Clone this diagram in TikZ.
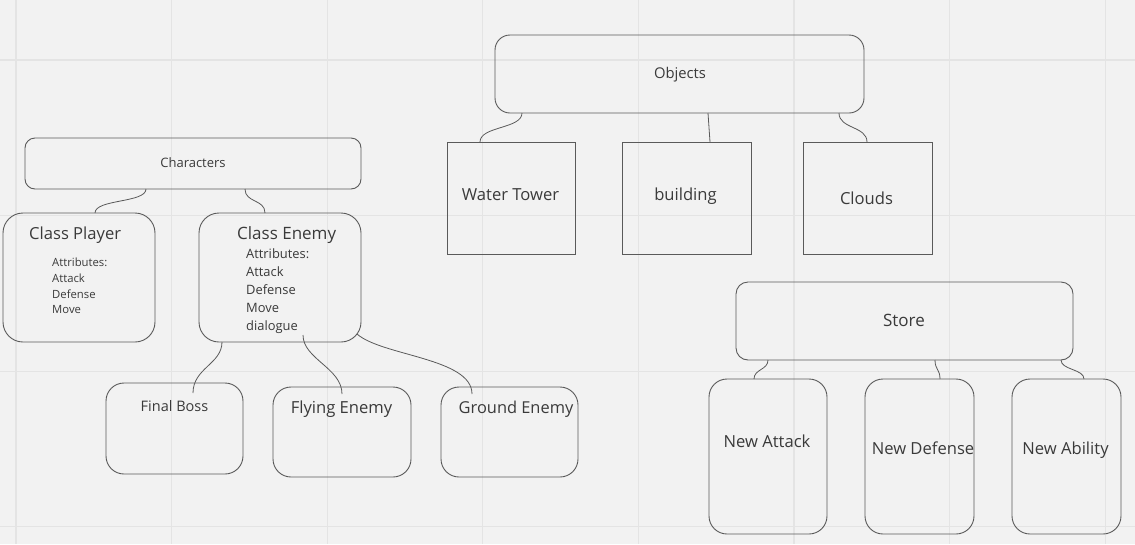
\documentclass[tikz,border=0pt]{standalone}
\usepackage{fontspec}
\setmainfont{Open Sans}
\usetikzlibrary{positioning}
\definecolor{boardbg}{HTML}{F2F2F2}
\definecolor{gridline}{HTML}{E4E4E4}
\definecolor{edge}{HTML}{5A5A5A}
\definecolor{ink}{HTML}{3A3A3A}
\tikzset{
  box/.style={draw=edge, line width=0.9pt, inner sep=0pt, outer sep=0pt},
  rbox/.style={box, rounded corners=#1},
  txt/.style={text=ink, inner sep=0pt, anchor=base},
  link/.style={draw=edge, line width=0.8pt},
}
\begin{document}
\begin{tikzpicture}[x=1pt,y=-1pt]
  %board and grid
  \fill[boardbg] (0,0) rectangle (1135,544);
  \useasboundingbox (0,0) rectangle (1135,544);
  \foreach \k in {0,...,7}
    \draw[gridline, line width=1.2pt] (16+155.6*\k,0) -- ++(0,544);
  \foreach \k in {0,...,3}
    \draw[gridline, line width=1.2pt] (0,60+155.6*\k) -- ++(1135,0);
  %characters
  \node[rbox=10pt, minimum width=336pt, minimum height=51pt] (chars) at (193,163.5) {};
  \node[txt, font=\fontsize{13}{15}\selectfont] (charsT) at (193,167.3) {Characters};
  \node[rbox=20pt, minimum width=152pt, minimum height=129pt] (player) at (79,277.5) {};
  \node[txt, anchor=base west, font=\fontsize{16.6}{19}\selectfont] (playerT) at (29,239) {Class Player};
  \node[txt, anchor=north west, align=left, font=\fontsize{11.3}{15.7}\selectfont]
        (playerA) at (52,258) {Attributes:\\Attack\\Defense\\Move};
  \node[rbox=20pt, minimum width=162pt, minimum height=129pt] (enemy) at (280,277.5) {};
  \node[txt, anchor=base west, font=\fontsize{17}{19}\selectfont] (enemyT) at (237,239) {Class Enemy};
  \node[txt, anchor=north west, align=left, font=\fontsize{12.9}{18}\selectfont]
        (enemyA) at (246,248) {Attributes:\\Attack\\Defense\\Move\\dialogue};
  %enemy kinds
  \node[rbox=18pt, minimum width=137pt, minimum height=91pt] (boss) at (174.5,428.5) {};
  \node[txt, font=\fontsize{14.5}{17}\selectfont] (bossT) at (174.5,411.7) {Final Boss};
  \node[rbox=18pt, minimum width=138pt, minimum height=90pt] (flying) at (342,432) {};
  \node[txt, font=\fontsize{16.6}{19}\selectfont] (flyingT) at (341.5,413.3) {Flying Enemy};
  \node[rbox=18pt, minimum width=137pt, minimum height=90pt] (ground) at (509.5,432) {};
  \node[txt, font=\fontsize{16.4}{19}\selectfont] (groundT) at (516,413) {Ground Enemy};
  %objects
  \node[rbox=15pt, minimum width=369pt, minimum height=78pt] (objects) at (679.5,74) {};
  \node[txt, font=\fontsize{14.8}{17}\selectfont] (objectsT) at (680,78.7) {Objects};
  \node[box, minimum width=128pt, minimum height=112pt] (tower) at (511,198) {};
  \node[txt, font=\fontsize{16.6}{19}\selectfont] (towerT) at (510.5,200.7) {Water Tower};
  \node[box, minimum width=129pt, minimum height=112pt] (building) at (686.5,198) {};
  \node[txt, font=\fontsize{16.6}{19}\selectfont] (buildingT) at (685.5,200.7) {building};
  \node[box, minimum width=129pt, minimum height=112pt] (clouds) at (867.5,198) {};
  \node[txt, font=\fontsize{16.6}{19}\selectfont] (cloudsT) at (866.5,204) {Clouds};
  %store
  \node[rbox=12pt, minimum width=337pt, minimum height=78pt] (store) at (904.5,321) {};
  \node[txt, font=\fontsize{17}{19}\selectfont] (storeT) at (904,326) {Store};
  \node[rbox=18pt, minimum width=118pt, minimum height=155pt] (attack) at (768,456.5) {};
  \node[txt, font=\fontsize{16.6}{19}\selectfont] (attackT) at (767,447.7) {New Attack};
  \node[rbox=18pt, minimum width=109pt, minimum height=155pt] (defense) at (919.5,456.5) {};
  \node[txt, font=\fontsize{16.6}{19}\selectfont] (defenseT) at (923,454) {New Defense};
  \node[rbox=18pt, minimum width=109pt, minimum height=155pt] (ability) at (1066.5,456.5) {};
  \node[txt, font=\fontsize{16.6}{19}\selectfont] (abilityT) at (1065.5,454) {New Ability};
  %links
  \draw[link] ([xshift=-47pt]chars.south) .. controls +(0,14) and +(0,-14) .. ([xshift=16pt]player.north);
  \draw[link] ([xshift=52pt]chars.south) .. controls +(0,14) and +(0,-14) .. ([xshift=-15pt]enemy.north);
  \draw[link] ([xshift=-58pt]enemy.south) .. controls +(0,22) and +(0,-25) .. ([xshift=18.5pt,yshift=-10pt]boss.north);
  \draw[link] ([xshift=23pt,yshift=7pt]enemy.south) .. controls +(0,24) and +(0,-26) .. ([yshift=-7pt]flying.north);
  \draw[link] ([xshift=-4pt,yshift=8pt]enemy.south east) .. controls +(25,22) and +(0,-36) .. ([xshift=-37.5pt,yshift=-7pt]ground.north);
  \draw[link] ([xshift=-157.5pt]objects.south) .. controls +(0,16) and +(0,-16) .. ([xshift=-31pt]tower.north);
  \draw[link] ([xshift=28.5pt]objects.south) -- ([xshift=23.5pt]building.north);
  \draw[link] ([xshift=159.5pt]objects.south) .. controls +(0,16) and +(0,-16) .. ([xshift=-0.5pt]clouds.north);
  \draw[link] ([xshift=-136.5pt]store.south) .. controls +(0,10) and +(0,-10) .. ([xshift=-14pt]attack.north);
  \draw[link] ([xshift=30.5pt]store.south) .. controls +(0,10) and +(0,-10) .. ([xshift=20.5pt]defense.north);
  \draw[link] ([xshift=156.5pt]store.south) .. controls +(0,10) and +(0,-10) .. ([xshift=17.5pt]ability.north);
\end{tikzpicture}
\end{document}
